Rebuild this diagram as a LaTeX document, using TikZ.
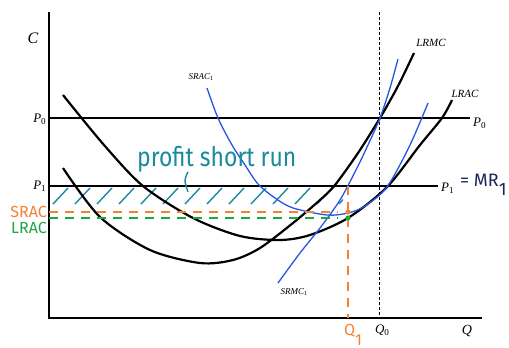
\documentclass[tikz,border=0pt]{standalone}
\usepackage{fontspec}
\usepackage{tikz}
\usetikzlibrary{positioning, calc}
\newfontfamily\handfont[FakeStretch=0.85]{Fira Sans}
\newfontfamily\handwide{Fira Sans}
\newfontfamily\lblfont{Liberation Serif}
\newcommand{\lsub}[2]{\textit{#1}\raisebox{-0.35ex}{\scalebox{0.7}{#2}}}
\definecolor{cBlue}{RGB}{40,85,225}
\definecolor{cTeal}{RGB}{26,138,158}
\definecolor{cOrange}{RGB}{245,130,50}
\definecolor{cGreen}{RGB}{30,165,70}
\definecolor{cNavy}{RGB}{28,40,88}
\tikzset{
	axis/.style     ={line width=1.7pt},
	priceline/.style={line width=1.3pt},
	lrcurve/.style  ={line width=2.2pt, smooth},
	srcurve/.style  ={cBlue, line width=1.3pt, smooth},
	markdash/.style ={line width=1.5pt, dash pattern=on 9pt off 7pt},
	guide/.style    ={line width=0.6pt, dash pattern=on 3pt off 2pt},
	hatch/.style    ={cTeal, line width=1.4pt},
	lbl/.style      ={inner sep=1pt, font=\lblfont\fontsize{13}{13}\selectfont},
	% handwritten notes
	hand/.style     ={inner sep=0pt, font=\handfont\fontsize{27}{27}\selectfont, text=cTeal},
}

\begin{document}
\begin{tikzpicture}[x=1pt, y=-1pt]
	\useasboundingbox (0,0) rectangle (509,348);
	% axes
	\coordinate (O) at (49,318);
	\coordinate (ytop) at (49,12);
	\coordinate (xend) at (482,318);
	\draw[axis] (ytop) -- (O) -- (xend);
	\node[lbl, font=\lblfont\fontsize{16}{16}\selectfont] (lC) at (33,38) {\textit{C}};
	\node[lbl, font=\lblfont\fontsize{14}{14}\selectfont] (lQ) at (467,331) {\textit{Q}};
	% price levels
	\coordinate (p0a) at (49,118);
	\coordinate (p0b) at (470,118);
	\coordinate (p1a) at (49,186);
	\coordinate (p1b) at (438,186);
	\node[lbl, anchor=east] (lP0) at (47,119) {\lsub{P}{0}};
	\node[lbl, anchor=west] (rP0) at (472,123) {\lsub{P}{0}};
	\node[lbl, anchor=east] (lP1) at (47,186) {\lsub{P}{1}};
	\node[lbl, anchor=west] (rP1) at (440,188) {\lsub{P}{1}};
	\node[anchor=west, inner sep=0pt, text=cNavy, font=\handwide\fontsize{18}{18}\selectfont] (lMR) at (460,185) {= MR\raisebox{-1.0ex}{1}};
	% hatched profit area
	\begin{scope}
		\clip (49,186) rectangle (343,206);
		\foreach \x in {53,75,...,339}
			\draw[hatch] (\x,204) -- ++(15,-16);
	\end{scope}
	\draw[priceline] (p0a) -- (p0b);
	\draw[priceline] (p1a) -- (p1b);
	% Q0
	\coordinate (q0top) at (379,12);
	\coordinate (q0bot) at (379,318);
	\draw[guide] (q0top) -- (q0bot);
	\node[lbl] (lQ0) at (382,330) {\lsub{Q}{0}};
	% long run curves
	\draw[lrcurve] plot coordinates {(63,95) (104,145) (143,186) (193,218) (240,236) (280,240) (310,235) (348,218) (387,187) (420,145) (442,118) (452,100)};
	\draw[lrcurve] plot coordinates {(63,168) (100,217) (150,250) (200,263) (233,260) (260,248) (293,223) (320,200) (335,185) (358,153) (380,118) (398,86) (414,53)};
	\node[lbl, font=\lblfont\fontsize{11}{11}\selectfont] (lLRMC) at (431,43) {\textit{LRMC}};
	\node[lbl, font=\lblfont\fontsize{11}{11}\selectfont] (lLRAC) at (465,94) {\textit{LRAC}};
	% short run curves
	\draw[srcurve] plot coordinates {(207,88) (218,118) (232,145) (245,165) (258,184) (275,198) (293,208) (327,215) (348,213) (365,206) (387,187) (410,145) (428,103)};
	\draw[srcurve] plot coordinates {(278,283) (300,253) (320,228) (340,200) (357,168) (368,145) (380,118) (390,88) (398,59)};
	\node[lbl, font=\lblfont\fontsize{9}{9}\selectfont] (lSRAC) at (201,77) {\lsub{SRAC}{1}};
	\node[lbl, font=\lblfont\fontsize{9}{9}\selectfont] (lSRMC) at (294,292) {\lsub{SRMC}{1}};
	% Q1 and the two cost levels
	\coordinate (q1top) at (348,186);
	\coordinate (q1bot) at (348,318);
	\coordinate (srA) at (49,212);
	\coordinate (srB) at (338,212);
	\coordinate (lrA) at (49,218);
	\coordinate (lrB) at (338,218);
	\draw[markdash, cOrange] (q1top) -- (q1bot);
	\draw[markdash, cOrange] (srA) -- (srB);
	\draw[markdash, cGreen] (lrA) -- (lrB);
	\fill[cOrange] (348,212) circle (2.6pt);
	\fill[cGreen] (348,218) circle (2.6pt);
	\node[inner sep=0pt, text=cOrange, font=\handwide\fontsize{16}{16}\selectfont] (lQ1) at (353,335) {Q\raisebox{-1.1ex}{1}};
	\node[anchor=east, inner sep=0pt, text=cOrange, font=\handwide\fontsize{16}{16}\selectfont] (lSRACh) at (47,212) {SRAC};
	\node[anchor=east, inner sep=0pt, text=cGreen, font=\handwide\fontsize{16}{16}\selectfont] (lLRACh) at (47,228) {LRAC};
	% note
	\node[hand, anchor=base west] (note) at (137,166) {profit short run};
	\coordinate (lead) at (188,172);
	\draw[hatch] (lead) .. controls (184,180) .. (188,192);
\end{tikzpicture}
\end{document}
